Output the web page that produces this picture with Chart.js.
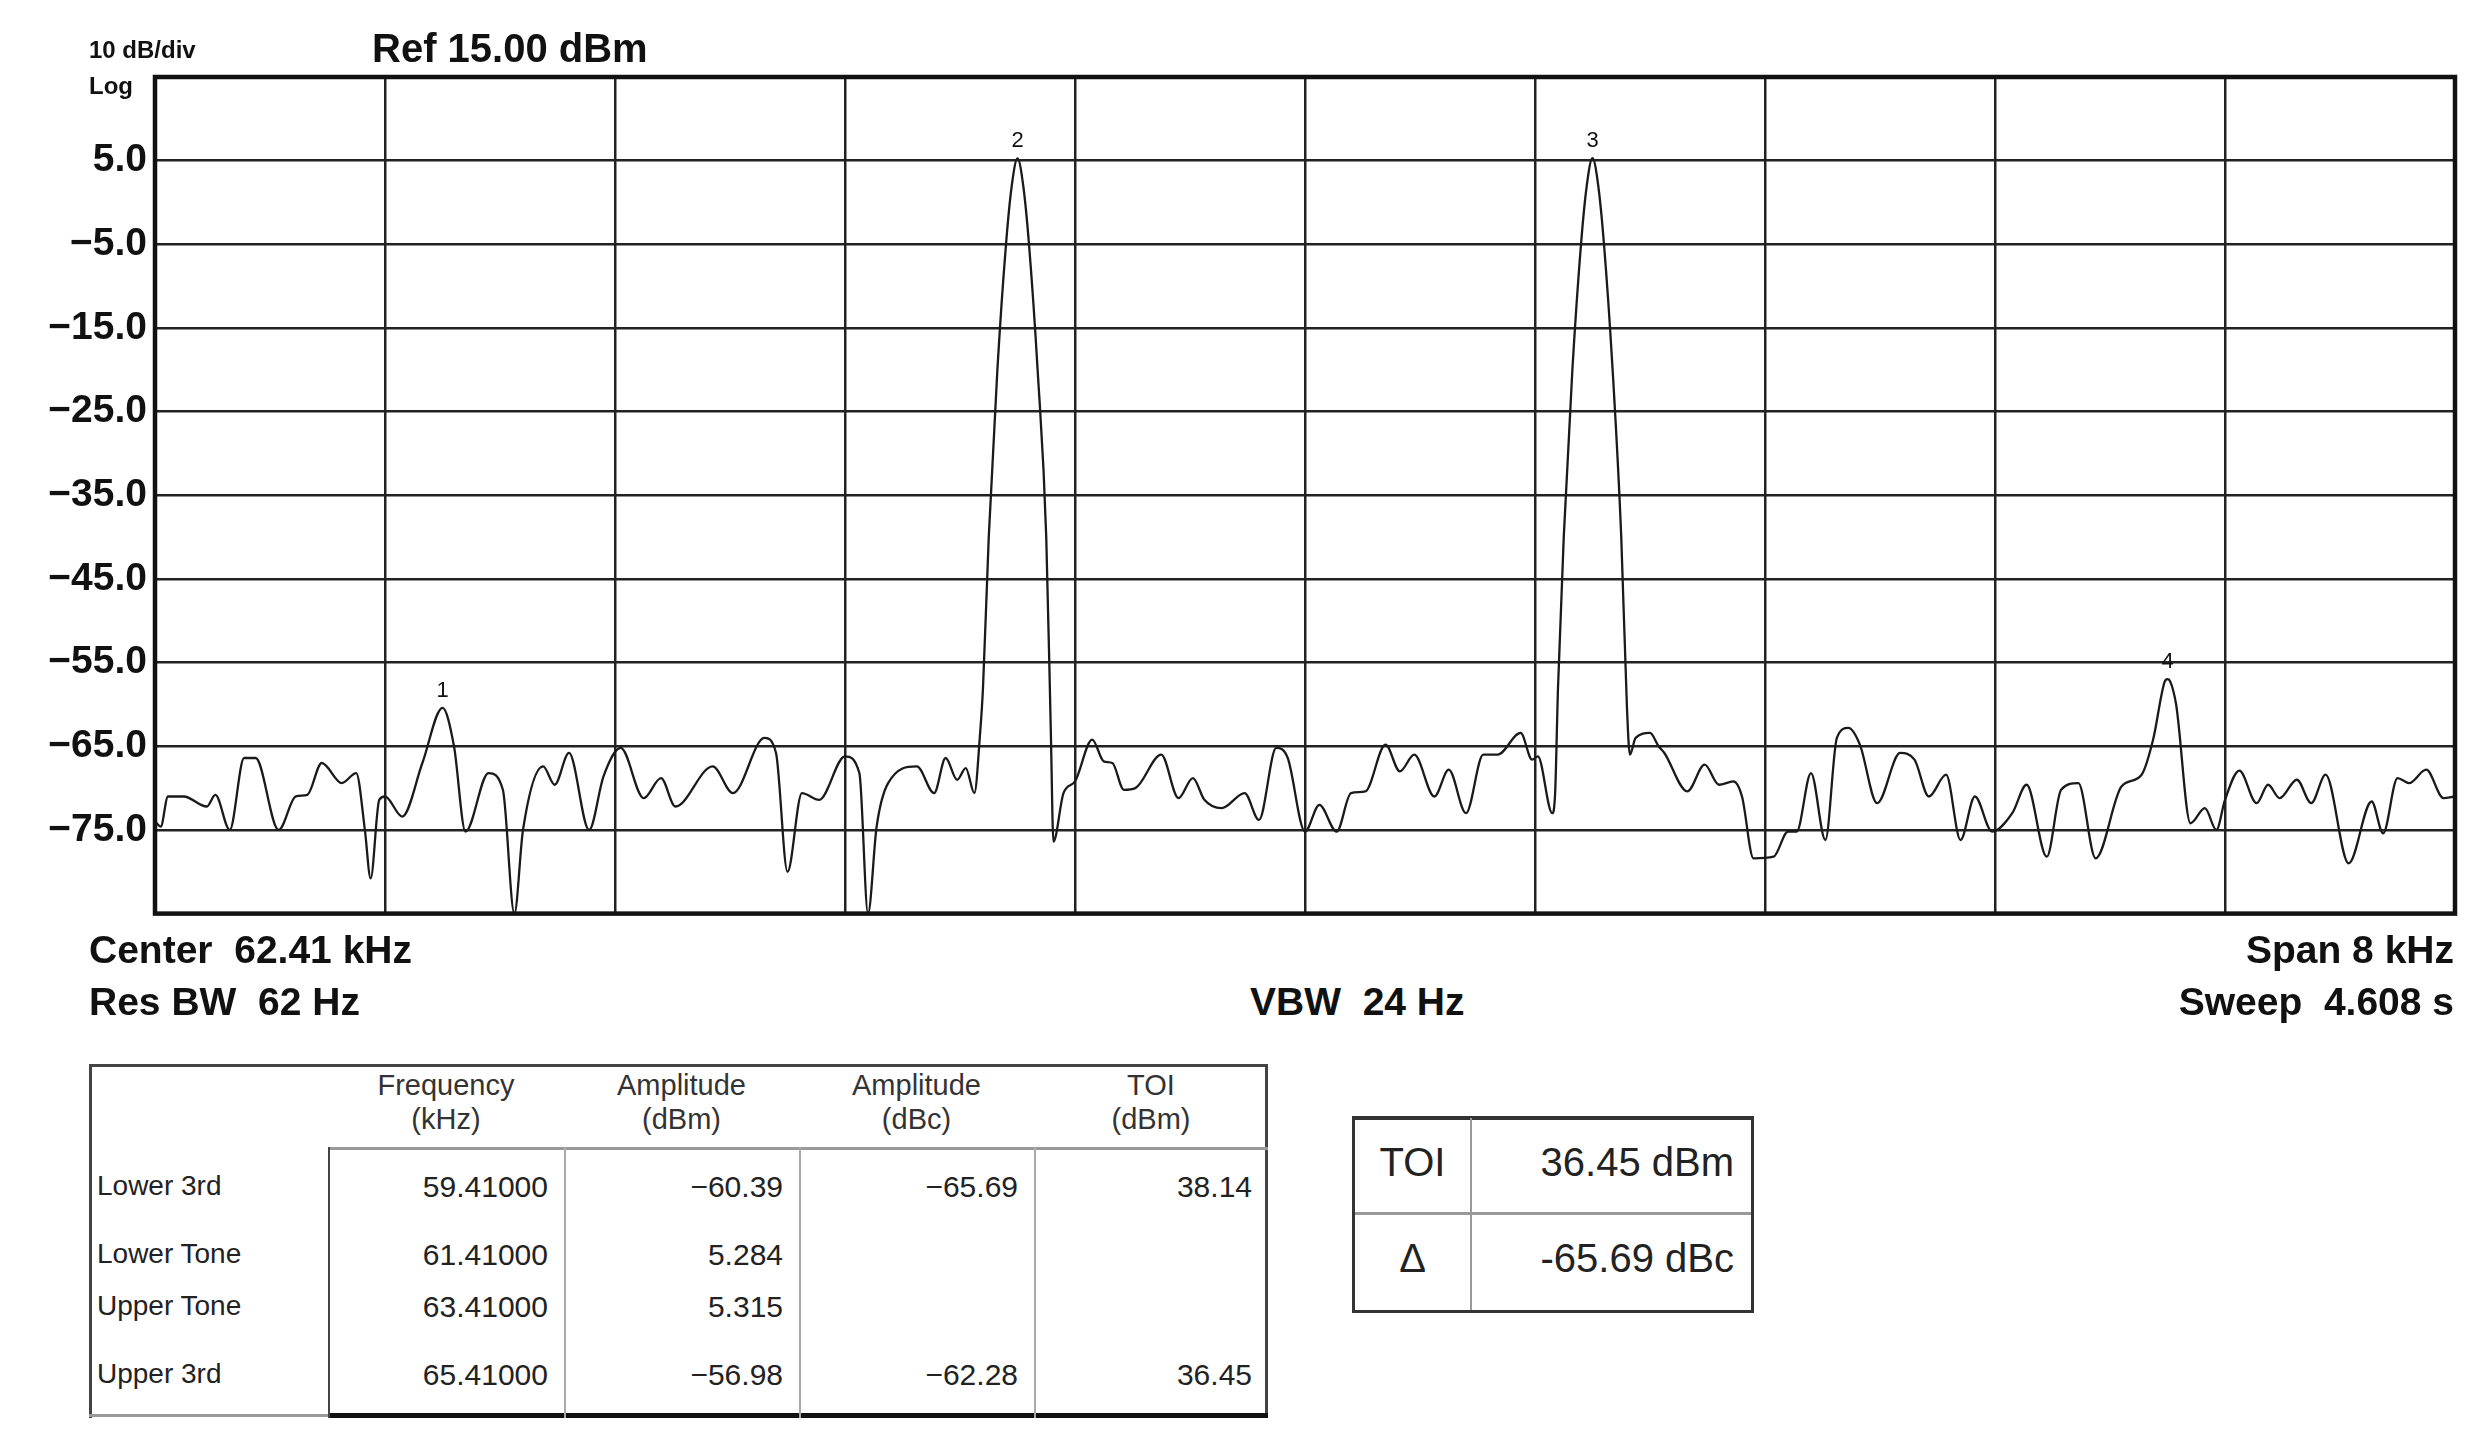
<!DOCTYPE html>
<html><head><meta charset="utf-8">
<script src="https://cdn.jsdelivr.net/npm/chart.js@4.4.0/dist/chart.umd.min.js"></script>
<style>
body{margin:0;background:#fff;width:2492px;height:1446px;position:relative;overflow:hidden;font-family:"Liberation Sans",Arial,sans-serif;}
.t{position:absolute;white-space:nowrap;color:#111;}
.b{font-weight:bold;}
.ln{position:absolute;}
</style></head><body>
<div style="position:absolute;left:0;top:0;width:2492px;height:945px;"><canvas id="c" width="2492" height="945"></canvas></div>

<div class="t b" style="left:89px;top:36px;font-size:24px;">10 dB/div</div>
<div class="t b" style="left:89px;top:72px;font-size:24px;">Log</div>
<div class="t b" style="left:372px;top:26px;font-size:40px;">Ref 15.00 dBm</div>
<div class="t b" style="left:89px;top:928px;font-size:39px;">Center&nbsp; 62.41 kHz</div>
<div class="t b" style="left:89px;top:980px;font-size:39px;">Res BW&nbsp; 62 Hz</div>
<div class="t b" style="left:1250px;top:980px;font-size:39px;">VBW&nbsp; 24 Hz</div>
<div class="t b" style="right:38px;top:928px;font-size:39px;">Span 8 kHz</div>
<div class="t b" style="right:38px;top:980px;font-size:39px;">Sweep&nbsp; 4.608 s</div>

<div id="tbl"></div>

<script>
const centerKHz = 62.41, spanKHz = 8;
const freqKHz = [58.41,58.43,58.455,58.51,58.59,58.62,58.67,58.72,58.76,58.84,58.90,58.94,58.99,59.06,59.11,59.14,59.16,59.19,59.21,59.27,59.34,59.41,59.45,59.49,59.57,59.62,59.66,59.69,59.76,59.80,59.85,59.92,59.97,60.03,60.11,60.17,60.22,60.35,60.42,60.53,60.57,60.61,60.66,60.72,60.81,60.86,60.89,60.92,60.96,61.06,61.12,61.16,61.20,61.23,61.26,61.28,61.29,61.31,61.34,61.37,61.39,61.41,61.43,61.45,61.48,61.51,61.526,61.535,61.57,61.61,61.67,61.71,61.74,61.78,61.82,61.91,61.97,62.02,62.06,62.12,62.20,62.25,62.31,62.35,62.41,62.46,62.52,62.57,62.62,62.69,62.74,62.79,62.86,62.91,62.97,63.03,63.08,63.16,63.20,63.22,63.27,63.28,63.29,63.31,63.34,63.37,63.39,63.41,63.43,63.45,63.48,63.51,63.53,63.54,63.56,63.61,63.64,63.66,63.74,63.80,63.85,63.90,63.93,63.97,64.04,64.09,64.12,64.17,64.22,64.26,64.30,64.34,64.40,64.48,64.53,64.58,64.64,64.69,64.74,64.80,64.87,64.92,64.99,65.04,65.10,65.16,65.25,65.32,65.36,65.40,65.41,65.42,65.44,65.49,65.54,65.58,65.61,65.66,65.72,65.76,65.80,65.86,65.91,65.96,66.04,66.12,66.16,66.21,66.25,66.31,66.37,66.41];
const ampDBm = [-74,-74.6,-71,-71,-72.2,-70.8,-75,-66.4,-66.4,-75,-71,-70.8,-67,-69.4,-68.2,-75,-80.8,-71.4,-71,-73.4,-67,-60.4,-65,-75.2,-68.2,-70.2,-85,-75,-67.4,-69.6,-65.8,-75,-68.6,-65.2,-71.2,-68.8,-72.2,-67.4,-70.6,-64,-65.8,-80,-70.6,-71.4,-66.2,-68.2,-85,-74.6,-69.4,-67.4,-70.6,-66.4,-69,-67.6,-70.6,-63.4,-58,-40,-20,-5,2,5.28,2,-5,-20,-40,-63.4,-76.4,-70.6,-69.2,-64.2,-66.8,-67,-70.2,-70,-66,-71.2,-68.8,-71.4,-72.4,-70.6,-73.8,-65.2,-66.4,-75.2,-72,-75.2,-70.6,-70.4,-64.8,-68,-66,-71,-67.8,-73,-66,-66,-63.4,-66.6,-66.2,-73,-70.6,-58,-40,-20,-5,2,5.3,2,-5,-20,-40,-60.5,-66,-64,-63.4,-65,-65.8,-70.4,-67.2,-69.6,-69.2,-71,-78.4,-78.2,-75.2,-75.2,-68.2,-76.2,-64,-62.8,-64.8,-71.8,-65.8,-66.6,-71,-68.4,-76.2,-71,-75.2,-73,-69.6,-78.2,-70.2,-69.4,-78.4,-69.8,-68.4,-64.2,-57.3,-56.98,-57.3,-60,-74.2,-72.4,-75,-71.4,-67.9,-71.8,-69.6,-71.2,-69,-71.8,-68.4,-79,-71.6,-75.4,-68.8,-69.4,-67.8,-71.2,-71];
const markerLabels = ['1','2','3','4'];
const markerFreqKHz = [59.41,61.41,63.41,65.41];
const markerAmpDBm = [-60.39,5.284,5.315,-56.98];
const yTicks = [15,5,-5,-15,-25,-35,-45,-55,-65,-75,-85];

const rowLabels = ['Lower 3rd','Lower Tone','Upper Tone','Upper 3rd'];
const colHeaders = [['Frequency','(kHz)'],['Amplitude','(dBm)'],['Amplitude','(dBc)'],['TOI','(dBm)']];
const colFreq = ['59.41000','61.41000','63.41000','65.41000'];
const colAmpDBm = ['\u221260.39','5.284','5.315','\u221256.98'];
const colAmpDBc = ['\u221265.69','','','\u221262.28'];
const colTOI = ['38.14','','','36.45'];
const toiText = '36.45 dBm', deltaText = '-65.69 dBc';

const fmin = centerKHz - spanKHz/2, fmax = centerKHz + spanKHz/2;
const markerPlugin = {
  id:'mk',
  afterDatasetsDraw(ch){
    const {ctx,scales:{x,y}} = ch;
    ctx.save();ctx.fillStyle='#111';ctx.font='22px "Liberation Sans",Arial';ctx.textAlign='center';ctx.textBaseline='bottom';
    markerLabels.forEach((l,i)=>ctx.fillText(l,x.getPixelForValue(markerFreqKHz[i]),y.getPixelForValue(markerAmpDBm[i])-6));
    const a=ch.chartArea;ctx.strokeStyle='#111';ctx.lineWidth=4.5;ctx.strokeRect(a.left,a.top,a.right-a.left,a.bottom-a.top);
    ctx.restore();
  }
};
new Chart(document.getElementById('c'),{
  type:'line',
  data:{datasets:[{data:freqKHz.map((f,i)=>({x:f,y:ampDBm[i]})),borderColor:'#1a1a1a',borderWidth:2.3,pointRadius:0,cubicInterpolationMode:'monotone',fill:false}]},
  options:{responsive:false,devicePixelRatio:1,animation:false,
    layout:{padding:{top:77,bottom:0,right:37,left:0}},
    plugins:{legend:{display:false},tooltip:{enabled:false}},
    scales:{
      x:{type:'linear',min:fmin,max:fmax,
        afterBuildTicks(s){const t=[];for(let k=0;k<=10;k++)t.push({value:fmin+k*spanKHz/10});s.ticks=t;},
        afterFit(s){s.height=10;},
        ticks:{display:false},grid:{color:'#222',lineWidth:2.5,drawTicks:false},border:{display:false}},
      y:{min:-85,max:15,
        afterBuildTicks(s){s.ticks=yTicks.map(v=>({value:v}));},
        afterFit(s){s.width=155;},
        ticks:{padding:8,color:'#111',font:{size:39,weight:'bold',family:'"Liberation Sans",Arial'},
          callback:v=>(v===15||v===-85)?'':(v<0?'\u2212':'')+Math.abs(v).toFixed(1)},
        grid:{color:'#222',lineWidth:2.5,drawTicks:false},border:{display:false}}
    }},
  plugins:[markerPlugin]
});

const T=document.getElementById('tbl');
function add(html){T.insertAdjacentHTML('beforeend',html);}
const L=89,R=1268,TOP=1064,BOT=1418,HB=1147;
const cx=[328,564,799,1034,1268];
add(`<div class="ln" style="left:${L}px;top:${TOP}px;width:${R-L}px;height:3px;background:#444"></div>`);
add(`<div class="ln" style="left:${L}px;top:${TOP}px;width:3px;height:${BOT-TOP}px;background:#444"></div>`);
add(`<div class="ln" style="left:${R-3}px;top:${TOP}px;width:3px;height:${BOT-TOP}px;background:#444"></div>`);
add(`<div class="ln" style="left:${L}px;top:${BOT-4}px;width:${cx[0]-L}px;height:3px;background:#999"></div>`);
add(`<div class="ln" style="left:${cx[0]}px;top:${BOT-5}px;width:${R-cx[0]}px;height:5px;background:#111"></div>`);
add(`<div class="ln" style="left:${cx[0]}px;top:${HB}px;width:${R-cx[0]}px;height:3px;background:#999"></div>`);
for(let i=0;i<4;i++)add(`<div class="ln" style="left:${cx[i]}px;top:${HB}px;width:2px;height:${BOT-HB}px;background:${i==0?'#444':'#aaa'}"></div>`);
colHeaders.forEach((h,i)=>add(`<div class="t" style="left:${cx[i]}px;width:${cx[i+1]-cx[i]}px;top:1068px;text-align:center;font-size:29px;line-height:34px;color:#333">${h[0]}<br>${h[1]}</div>`));
const rowY=[1170,1238,1290,1358];
const cols=[colFreq,colAmpDBm,colAmpDBc,colTOI];
rowLabels.forEach((r,j)=>{
  add(`<div class="t" style="left:97px;top:${rowY[j]}px;font-size:28px;color:#222">${r}</div>`);
  cols.forEach((c,i)=>add(`<div class="t" style="left:${cx[i]}px;width:${cx[i+1]-cx[i]-16}px;top:${rowY[j]}px;text-align:right;font-size:30px;color:#222">${c[j]}</div>`));
});
add(`<div class="ln" style="left:1352px;top:1116px;width:396px;height:190px;border:3px solid #333;border-top-width:4px"></div>`);
add(`<div class="ln" style="left:1470px;top:1118px;width:2px;height:192px;background:#999"></div>`);
add(`<div class="ln" style="left:1355px;top:1212px;width:396px;height:3px;background:#999"></div>`);
add(`<div class="t" style="left:1355px;width:115px;top:1140px;text-align:center;font-size:40px;color:#222">TOI</div>`);
add(`<div class="t" style="left:1472px;width:262px;top:1140px;text-align:right;font-size:40px;color:#222">${toiText}</div>`);
add(`<div class="t" style="left:1355px;width:115px;top:1236px;text-align:center;font-size:40px;color:#222">\u0394</div>`);
add(`<div class="t" style="left:1472px;width:262px;top:1236px;text-align:right;font-size:40px;color:#222">${deltaText}</div>`);
</script>
</body></html>
